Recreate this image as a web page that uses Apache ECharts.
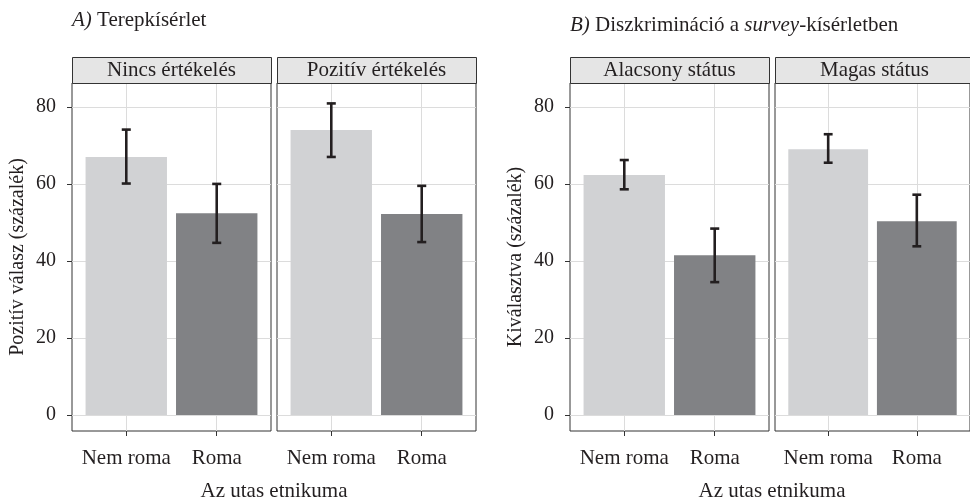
<!DOCTYPE html>
<html>
<head>
<meta charset="utf-8">
<script src="https://cdn.jsdelivr.net/npm/echarts@6/dist/echarts.min.js"></script>
<style>html,body{margin:0;padding:0;background:#fff}#c{width:970px;height:501px}</style>
</head>
<body>
<div id="c"></div>
<script>
// ---- data ----
const categories = ['Nem roma', 'Roma'];
const facetsA = ['Nincs értékelés', 'Pozitív értékelés'];
const facetsB = ['Alacsony státus', 'Magas státus'];
const yTicks = [0, 20, 40, 60, 80];

const aNincsMean = [67.0, 52.4];
const aNincsLow = [60.1, 44.7];
const aNincsHigh = [74.1, 60.0];

const aPozitivMean = [74.0, 52.2];
const aPozitivLow = [67.0, 44.9];
const aPozitivHigh = [80.9, 59.5];

const bAlacsonyMean = [62.3, 41.5];
const bAlacsonyLow = [58.6, 34.5];
const bAlacsonyHigh = [66.2, 48.4];

const bMagasMean = [69.0, 50.3];
const bMagasLow = [65.5, 43.8];
const bMagasHigh = [72.9, 57.2];

const titleA = 'Terepkísérlet';
const titleB = ['Diszkrimináció a ', 'survey', '-kísérletben'];
const yNameA = 'Pozitív válasz (százalék)';
const yNameB = 'Kiválasztva (százalék)';
const xName = 'Az utas etnikuma';

// ---- style ----
const FONT = 'Liberation Serif';
const TXT = '#231f20';
const barColors = ['#d1d2d4', '#818285'];
const gridTop = 83, gridH = 348;
const gridLefts = [72, 277, 570, 775];
const gridW = 199;
const yMin = -4.15, yMax = 86.2;

const panels = [
  {mean: aNincsMean, low: aNincsLow, high: aNincsHigh, strip: facetsA[0]},
  {mean: aPozitivMean, low: aPozitivLow, high: aPozitivHigh, strip: facetsA[1]},
  {mean: bAlacsonyMean, low: bAlacsonyLow, high: bAlacsonyHigh, strip: facetsB[0]},
  {mean: bMagasMean, low: bMagasLow, high: bMagasHigh, strip: facetsB[1]}
];

const grids = [], xAxes = [], yAxes = [], series = [], graphics = [];
const catPos = categories.map((c, i) => i + 1);

panels.forEach((p, k) => {
  const isLeft = (k === 0 || k === 2);
  grids.push({left: gridLefts[k], top: gridTop, width: gridW, height: gridH,
    show: true, borderColor: '#333', borderWidth: 1, backgroundColor: '#fff', containLabel: false});
  xAxes.push({
    gridIndex: k, type: 'value', min: 0.4, max: 2.6,
    axisLine: {show: false, onZero: false},
    axisTick: {show: true, customValues: catPos, length: 5, lineStyle: {color: '#333', width: 1}},
    axisLabel: {show: true, customValues: catPos, margin: 17, color: TXT, fontFamily: FONT, fontSize: 21,
      formatter: v => categories[Math.round(v) - 1] || ''},
    splitLine: {show: true, lineStyle: {color: '#dcdcdc', width: 1}}
  });
  yAxes.push({
    gridIndex: k, type: 'value', min: yMin, max: yMax,
    axisLine: {show: false},
    axisTick: {show: isLeft, customValues: yTicks, length: 5, lineStyle: {color: '#333', width: 1}},
    axisLabel: {show: isLeft, customValues: yTicks, margin: 16, color: TXT, fontFamily: FONT, fontSize: 20},
    splitLine: {show: true, lineStyle: {color: '#dcdcdc', width: 1}},
    name: isLeft ? (k === 0 ? yNameA : yNameB) : '',
    nameLocation: 'middle', nameGap: 44, nameRotate: 90,
    nameTextStyle: {color: TXT, fontFamily: FONT, fontSize: 20}
  });
  const data = categories.map((c, i) => [catPos[i], p.mean[i], p.low[i], p.high[i]]);
  series.push({
    type: 'custom', xAxisIndex: k, yAxisIndex: k, data: data, z: 2,
    renderItem: (params, api) => {
      const x = api.value(0), y = api.value(1);
      const a = api.coord([x - 0.45, y]);
      const b = api.coord([x + 0.45, 0]);
      return {type: 'rect', shape: {x: a[0], y: a[1], width: b[0] - a[0], height: b[1] - a[1]},
        style: {fill: barColors[Math.round(x) - 1]}};
    }
  });
  series.push({
    type: 'custom', xAxisIndex: k, yAxisIndex: k, data: data, z: 3,
    renderItem: (params, api) => {
      const x = api.value(0);
      const lo = api.coord([x, api.value(2)]);
      const hi = api.coord([x, api.value(3)]);
      const hw = api.size([0.05, 0])[0];
      const st = {stroke: '#231f20', lineWidth: 2.6};
      return {type: 'group', children: [
        {type: 'line', shape: {x1: lo[0], y1: lo[1], x2: hi[0], y2: hi[1]}, style: st},
        {type: 'line', shape: {x1: lo[0] - hw, y1: lo[1], x2: lo[0] + hw, y2: lo[1]}, style: st},
        {type: 'line', shape: {x1: hi[0] - hw, y1: hi[1], x2: hi[0] + hw, y2: hi[1]}, style: st}
      ]};
    }
  });
  // strip
  graphics.push({type: 'rect', left: gridLefts[k], top: 57,
    shape: {x: 0, y: 0, width: gridW, height: 26},
    style: {fill: '#e5e5e5', stroke: '#333', lineWidth: 1}, z: 10});
  graphics.push({type: 'text', x: gridLefts[k] + gridW / 2, y: 70,
    style: {text: p.strip, fontFamily: FONT, fontSize: 21, fill: TXT, textAlign: 'center', textVerticalAlign: 'middle'}, z: 11});
});

graphics.push({type: 'text', x: 274, y: 491,
  style: {text: xName, fontFamily: FONT, fontSize: 21, fill: TXT, textAlign: 'center', textVerticalAlign: 'middle'}});
graphics.push({type: 'text', x: 772, y: 491,
  style: {text: xName, fontFamily: FONT, fontSize: 21, fill: TXT, textAlign: 'center', textVerticalAlign: 'middle'}});

const rich = {i: {fontStyle: 'italic', fontWeight: 'normal', fontFamily: FONT, fontSize: 21, color: TXT},
              n: {fontWeight: 'normal', fontFamily: FONT, fontSize: 21, color: TXT}};

const chart = echarts.init(document.getElementById('c'), null, {renderer: 'canvas'});
chart.setOption({
  animation: false,
  backgroundColor: '#fff',
  title: [
    {text: '{i|A)} {n|' + titleA + '}', left: 72, top: 10, padding: 0,
      textStyle: {rich: rich, fontWeight: 'normal', fontFamily: FONT, fontSize: 21, color: TXT}},
    {text: '{i|B)} {n|' + titleB[0] + '}{i|' + titleB[1] + '}{n|' + titleB[2] + '}', left: 570, top: 15, padding: 0,
      textStyle: {rich: rich, fontWeight: 'normal', fontFamily: FONT, fontSize: 21, color: TXT}}
  ],
  grid: grids, xAxis: xAxes, yAxis: yAxes, series: series, graphic: graphics
});
</script>
</body>
</html>
